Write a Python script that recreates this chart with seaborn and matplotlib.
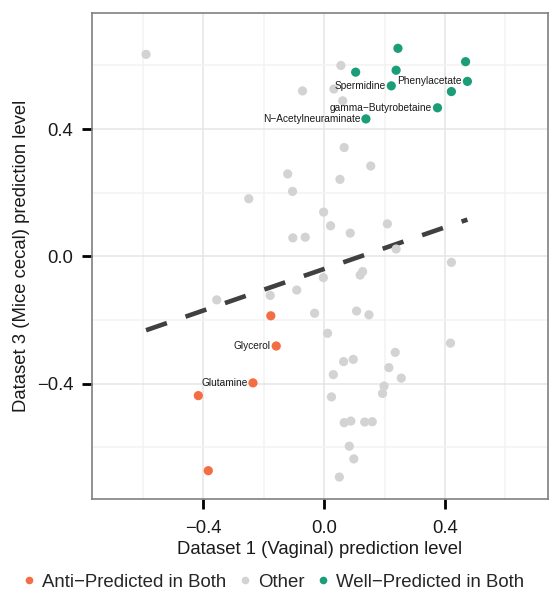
import numpy as np
import pandas as pd
import seaborn as sns
import matplotlib.pyplot as plt
from matplotlib.ticker import MultipleLocator
from matplotlib.lines import Line2D

# values
other_x = [-0.590, 0.055, -0.072, 0.032, 0.061, 0.066, 0.154, -0.121, 0.052, -0.105,
           -0.250, -0.002, 0.021, 0.209, -0.104, -0.063, 0.086, 0.238, 0.421, 0.119,
           0.127, -0.003, -0.091, -0.179, -0.356, -0.032, 0.107, 0.148, 0.011, 0.418,
           0.235, 0.096, 0.064, 0.214, 0.030, 0.255, 0.198, 0.193, 0.024, 0.066,
           0.088, 0.134, 0.159, 0.083, 0.098, 0.050]
other_y = [0.635, 0.600, 0.520, 0.526, 0.489, 0.342, 0.284, 0.259, 0.242, 0.204,
           0.181, 0.139, 0.096, 0.102, 0.058, 0.060, 0.073, 0.023, -0.019, -0.059,
           -0.048, -0.067, -0.106, -0.123, -0.137, -0.179, -0.172, -0.184, -0.242, -0.273,
           -0.302, -0.324, -0.331, -0.350, -0.372, -0.383, -0.408, -0.431, -0.442, -0.523,
           -0.518, -0.521, -0.520, -0.597, -0.637, -0.694]

well_x = [0.104, 0.244, 0.238, 0.468, 0.474, 0.222, 0.421, 0.375, 0.138]
well_y = [0.579, 0.654, 0.585, 0.612, 0.550, 0.536, 0.518, 0.467, 0.432]
well_names = ['', '', '', '', 'Phenylacetate', 'Spermidine', '', 'gamma\u2212Butyrobetaine',
              'N\u2212Acetylneuraminate']

anti_x = [-0.177, -0.159, -0.236, -0.417, -0.384]
anti_y = [-0.187, -0.282, -0.398, -0.438, -0.674]
anti_names = ['', 'Glycerol', 'Glutamine', '', '']

groups = ['Anti\u2212Predicted in Both', 'Other', 'Well\u2212Predicted in Both']
colors = ['#F46D43', '#D3D3D3', '#1B9E77']

df = pd.concat([
    pd.DataFrame({'x': anti_x, 'y': anti_y, 'group': groups[0], 'name': anti_names}),
    pd.DataFrame({'x': other_x, 'y': other_y, 'group': groups[1], 'name': ''}),
    pd.DataFrame({'x': well_x, 'y': well_y, 'group': groups[2], 'name': well_names}),
], ignore_index=True)

sns.set_style('white')
plt.rcParams['font.family'] = ['Liberation Sans', 'DejaVu Sans']

fig = plt.figure(figsize=(5.52, 5.93), dpi=100)
ax = fig.add_axes([0.1667, 0.158, 0.8261, 0.8206])

ax.xaxis.set_major_locator(MultipleLocator(0.4))
ax.yaxis.set_major_locator(MultipleLocator(0.4))
ax.xaxis.set_minor_locator(MultipleLocator(0.2))
ax.yaxis.set_minor_locator(MultipleLocator(0.2))
ax.grid(which='major', color='#E5E5E5', linewidth=1.1)
ax.grid(which='minor', color='#F2F2F2', linewidth=1.1)
ax.set_axisbelow(True)

sns.scatterplot(data=df, x='x', y='y', hue='group', hue_order=groups, palette=colors,
                s=44, linewidth=0, ax=ax, legend=False, zorder=3)
sns.regplot(data=df, x='x', y='y', scatter=False, ci=None, ax=ax, truncate=True,
            line_kws={'color': '#404040', 'linewidth': 3.3, 'dashes': (4.8, 4.3), 'zorder': 2})

for _, r in df[df['name'] != ''].iterrows():
    ax.annotate(r['name'], (r['x'], r['y']), xytext=(-4, 0), textcoords='offset points',
                ha='right', va='center', fontsize=7.3, color='#1a1a1a', zorder=4)

ax.set_xlim(-0.769, 0.741)
ax.set_ylim(-0.764, 0.766)
ax.set_xticks([-0.4, 0.0, 0.4])
ax.set_yticks([-0.4, 0.0, 0.4])
ax.set_xticklabels(['\u22120.4', '0.0', '0.4'])
ax.set_yticklabels(['\u22120.4', '0.0', '0.4'])
ax.tick_params(which='major', direction='out', length=7, width=2, color='black',
               labelsize=13.3, labelcolor='#1a1a1a', bottom=True, left=True)
ax.tick_params(axis='x', pad=8)
ax.tick_params(axis='y', pad=6.5)
ax.tick_params(which='minor', length=0)
ax.set_xlabel('Dataset 1 (Vaginal) prediction level', fontsize=13.3, color='#1a1a1a', labelpad=3)
ax.set_ylabel('Dataset 3 (Mice cecal) prediction level', fontsize=13.3, color='#1a1a1a', labelpad=5)
for s in ax.spines.values():
    s.set_color('#808080')
    s.set_linewidth(1.2)

handles = [Line2D([], [], marker='o', linestyle='', markersize=5.5, markerfacecolor=c,
                  markeredgewidth=0) for c in colors]
fig.legend(handles, groups, loc='lower center', bbox_to_anchor=(0.494, -0.015), ncol=3,
           frameon=False, fontsize=13.4, handlelength=0.8, handletextpad=0.3,
           columnspacing=0.6, borderaxespad=0.2)

fig.savefig('out.png', dpi=100)
